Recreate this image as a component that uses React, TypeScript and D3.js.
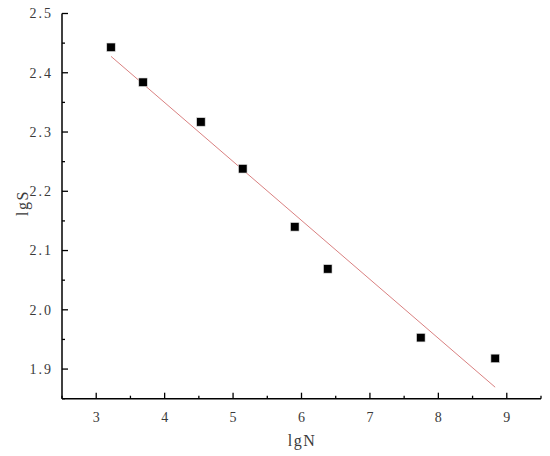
import React from "react";
import * as d3 from "d3";

const lgN = [3.216, 3.684, 4.53, 5.142, 5.902, 6.384, 7.744, 8.83];
const lgS = [2.443, 2.384, 2.317, 2.238, 2.14, 2.069, 1.953, 1.918];
const xTicks = [3, 4, 5, 6, 7, 8, 9];
const yTicks = [1.9, 2.0, 2.1, 2.2, 2.3, 2.4, 2.5];
const xMinor = [2.5, 3.5, 4.5, 5.5, 6.5, 7.5, 8.5, 9.5];
const yMinor = [1.85, 1.95, 2.05, 2.15, 2.25, 2.35, 2.45];

const W = 550, H = 456;
const left = 62, right = 541, top = 13.5, bottom = 398.7;

export default function App() {
  const x = d3.scaleLinear().domain([2.5, 9.5]).range([left, right]);
  const y = d3.scaleLinear().domain([1.85, 2.5]).range([bottom, top]);

  const mx = d3.mean(lgN)!;
  const my = d3.mean(lgS)!;
  const sxy = d3.sum(lgN.map((v, i) => (v - mx) * (lgS[i] - my)));
  const sxx = d3.sum(lgN.map((v) => (v - mx) ** 2));
  const slope = sxy / sxx;
  const intercept = my - slope * mx;
  const x0 = d3.min(lgN)!, x1 = d3.max(lgN)!;
  const fit = d3.line<number>().x((d) => x(d)).y((d) => y(intercept + slope * d))([x0, x1]);

  const font = "'Liberation Serif', 'DejaVu Serif', serif";
  const textColor = "#3a3a3a";
  const sq = 8.5;

  return (
    <svg width={W} height={H} style={{ position: "absolute", left: 0, top: 0, background: "#fff" }}>
      <rect width={W} height={H} fill="#fff" />
      <path d={fit!} stroke="#d98080" strokeWidth={1} fill="none" />
      {lgN.map((v, i) => (
        <rect key={i} x={x(v) - sq / 2} y={y(lgS[i]) - sq / 2} width={sq} height={sq} fill="#000" stroke="#ddd" strokeWidth={0.6} />
      ))}
      {/* axes */}
      <line x1={left} x2={left} y1={top} y2={bottom} stroke="#000" strokeWidth={1.5} />
      <line x1={left} x2={right} y1={bottom} y2={bottom} stroke="#000" strokeWidth={1.5} />
      {xTicks.map((t) => (
        <g key={"xt" + t}>
          <line x1={x(t)} x2={x(t)} y1={bottom} y2={bottom - 6} stroke="#000" strokeWidth={1.3} />
          <text x={x(t)} y={422} textAnchor="middle" fontFamily={font} fontSize={14} fill={textColor}>{t}</text>
        </g>
      ))}
      {xMinor.map((t) => (
        <line key={"xm" + t} x1={x(t)} x2={x(t)} y1={bottom} y2={bottom - 3} stroke="#000" strokeWidth={1.3} />
      ))}
      {yTicks.map((t) => (
        <g key={"yt" + t}>
          <line x1={left} x2={left + 6} y1={y(t)} y2={y(t)} stroke="#000" strokeWidth={1.3} />
          <text x={53} y={y(t) + 4.8} textAnchor="end" fontFamily={font} fontSize={14} letterSpacing={2} fill={textColor}>{t.toFixed(1)}</text>
        </g>
      ))}
      {yMinor.map((t) => (
        <line key={"ym" + t} x1={left} x2={left + 3} y1={y(t)} y2={y(t)} stroke="#000" strokeWidth={1.3} />
      ))}
      <text x={302} y={446} textAnchor="middle" fontFamily={font} fontSize={16} letterSpacing={1.5} fill={textColor}>lgN</text>
      <text transform="translate(28,203) rotate(-90)" textAnchor="middle" fontFamily={font} fontSize={16} letterSpacing={1.5} fill={textColor}>lgS</text>
    </svg>
  );
}
